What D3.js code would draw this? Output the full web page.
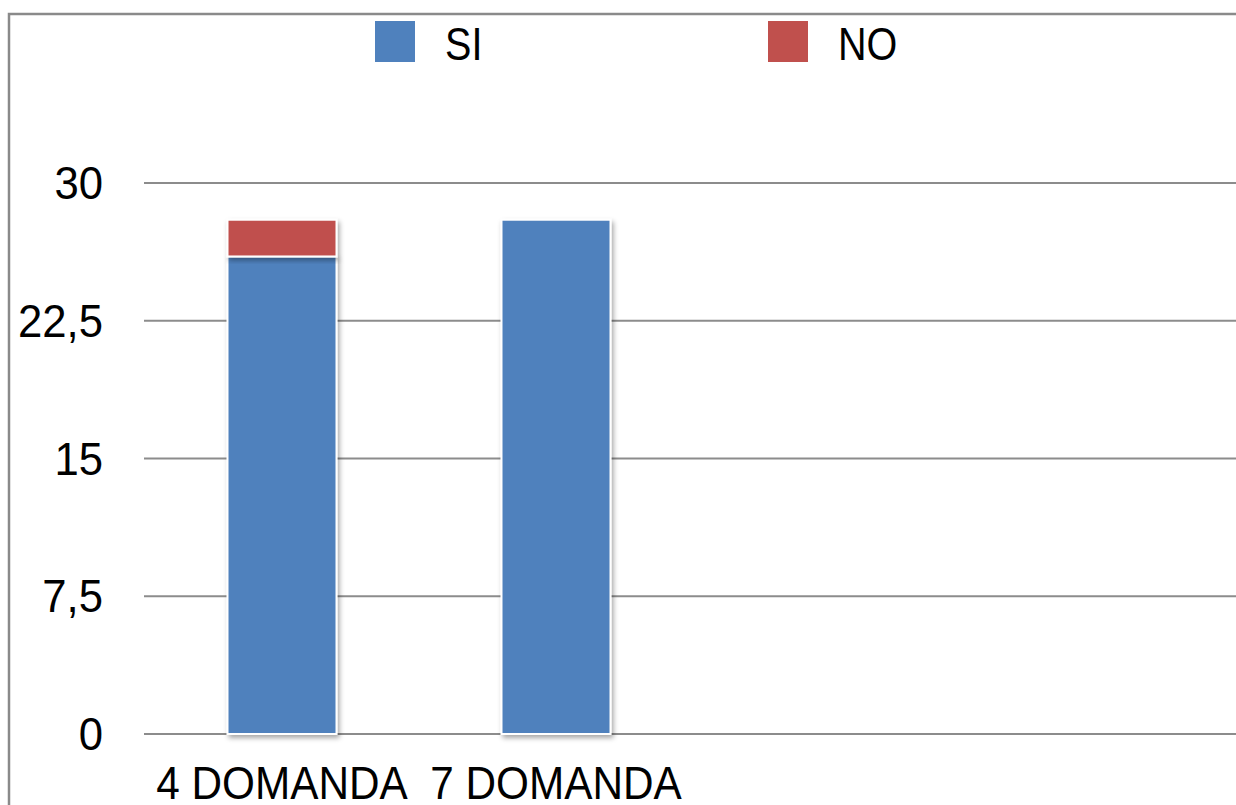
<!DOCTYPE html>
<html><head><meta charset="utf-8">
<script src="https://cdn.jsdelivr.net/npm/d3@7"></script>
<style>
html,body{margin:0;padding:0;background:#fff;overflow:hidden;}
text{font-family:"Liberation Sans Narrow","Arial Narrow","Liberation Sans",sans-serif;fill:#000;}
</style></head>
<body>
<svg id="chart" width="1236" height="805"></svg>
<script>
const categories = ["4 DOMANDA", "7 DOMANDA", "", ""];
const seriesNames = ["SI", "NO"];
const siValues = [26, 28, null, null];
const noValues = [2, 0, null, null];
const yTicks = [0, 7.5, 15, 22.5, 30];
const colors = ["#4F81BD", "#C0504D"];

const svg = d3.select("#chart");
const defs = svg.append("defs");
const f = defs.append("filter").attr("id","shadow").attr("x","-20%").attr("y","-20%").attr("width","140%").attr("height","140%");
f.append("feDropShadow").attr("dx",2).attr("dy",3).attr("stdDeviation",2.5).attr("flood-color","#000").attr("flood-opacity",0.35);

// outer frame
svg.append("rect").attr("x",9).attr("y",14).attr("width",1260).attr("height",840)
  .attr("fill","none").attr("stroke","#8a8a8a").attr("stroke-width",2.5);

const x = d3.scaleBand().domain(d3.range(categories.length)).range([145, 1241]).paddingInner(0).paddingOuter(0);
const y = d3.scaleLinear().domain([0, 30]).range([734, 183]);

// gridlines
svg.append("g").selectAll("line").data(yTicks).join("line")
  .attr("x1",144).attr("x2",1236)
  .attr("y1",d=>y(d)).attr("y2",d=>y(d))
  .attr("stroke","#8c8c8c").attr("stroke-width",2.2);

// y tick labels
const fmt = d => String(d).replace(".", ",");
svg.append("g").selectAll("text").data(yTicks).join("text")
  .attr("transform", d => `translate(103,${y(d)}) scale(0.95,1)`)
  .attr("dy","0.35em")
  .attr("text-anchor","end").attr("font-size",46)
  .text(fmt);

// stacked bars
const stackData = categories.map((c,i)=>({i, SI: siValues[i], NO: noValues[i]}));
const stack = d3.stack().keys(seriesNames);
const layers = stack(stackData.filter(d=>d.SI!==null));
const bw = 109;
layers.forEach((layer, li) => {
  svg.append("g").attr("filter","url(#shadow)").selectAll("rect")
    .data(layer.filter(d => d[1]-d[0] > 0)).join("rect")
    .attr("x", d => x(d.data.i) + x.bandwidth()/2 - bw/2)
    .attr("width", bw)
    .attr("y", d => y(d[1]))
    .attr("height", d => y(d[0]) - y(d[1]))
    .attr("fill", colors[li])
    .attr("stroke","#fff").attr("stroke-width",2);
});

// category labels
svg.append("g").selectAll("text").data(categories).join("text")
  .attr("transform",(d,i)=>`translate(${x(i)+x.bandwidth()/2},799) scale(0.92,1)`)
  .attr("text-anchor","middle").attr("font-size",46)
  .text(d=>d);

// legend
const legendX = [375, 768];
seriesNames.forEach((s,i)=>{
  svg.append("rect").attr("x",legendX[i]).attr("y",21).attr("width",40).attr("height",41)
    .attr("fill",colors[i]);
  svg.append("text").attr("transform",`translate(${legendX[i]+70},60) scale(0.86,1)`)
    .attr("font-size",46).text(s);
});
</script>
</body></html>
